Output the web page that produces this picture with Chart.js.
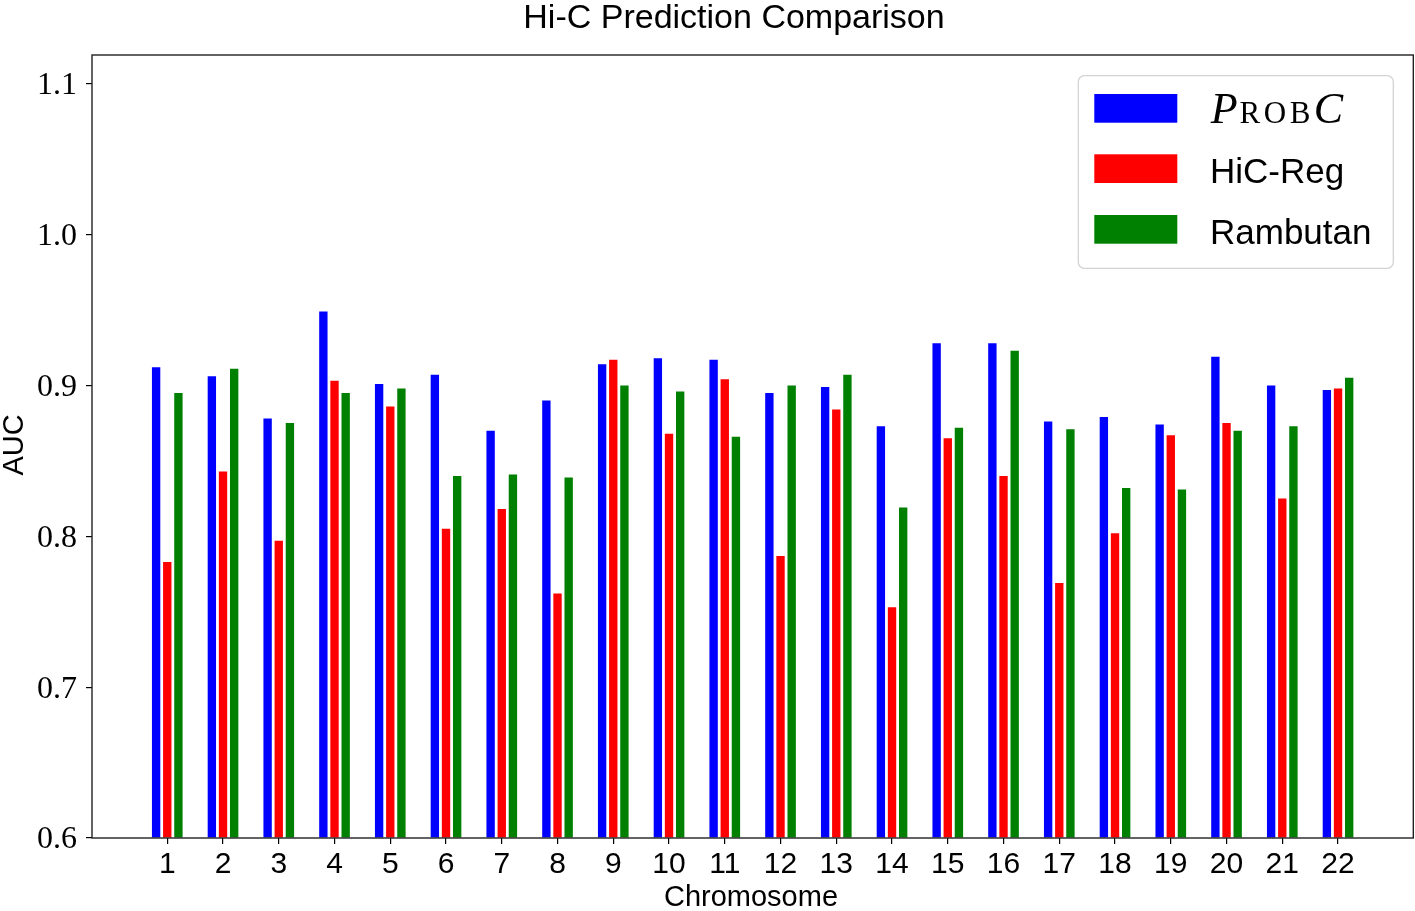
<!DOCTYPE html>
<html>
<head>
<meta charset="utf-8">
<script src="https://cdn.jsdelivr.net/npm/chart.js@4.4.1/dist/chart.umd.min.js"></script>
<style>
html,body{margin:0;padding:0;background:#fff;}
#wrap{width:1415px;height:911px;position:relative;}
</style>
</head>
<body>
<div id="wrap"><canvas id="c" width="1415" height="911"></canvas></div>
<script>
const chromosomes = [1,2,3,4,5,6,7,8,9,10,11,12,13,14,15,16,17,18,19,20,21,22];
const probc    = [0.912,0.906,0.878,0.949,0.901,0.907,0.870,0.890,0.914,0.918,0.917,0.895,0.899,0.873,0.928,0.928,0.876,0.879,0.874,0.919,0.900,0.897];
const hicreg   = [0.783,0.843,0.797,0.903,0.886,0.805,0.818,0.762,0.917,0.868,0.904,0.787,0.884,0.753,0.865,0.840,0.769,0.802,0.867,0.875,0.825,0.898];
const rambutan = [0.895,0.911,0.875,0.895,0.898,0.840,0.841,0.839,0.900,0.896,0.866,0.900,0.907,0.819,0.872,0.923,0.871,0.832,0.831,0.870,0.873,0.905];
const yTicks = [0.6,0.7,0.8,0.9,1.0,1.1];
const seriesLabels = ['ProbC','HiC-Reg','Rambutan'];
const seriesColors = ['#0000ff','#ff0000','#008000'];
const titleText = 'Hi-C Prediction Comparison';
const xTitle = 'Chromosome';
const yTitle = 'AUC';

const yMin = 0.6, yMax = 1.119;
const xMin = -0.35, xMax = 23.35;

function toPoints(vals){ return chromosomes.map((c,i)=>({x:c,y:vals[i]})); }

const datasets = [probc,hicreg,rambutan].map((v,i)=>({
  label: seriesLabels[i],
  data: toPoints(v),
  backgroundColor: seriesColors[i],
  borderWidth: 0,
  base: yMin,
  categoryPercentage: 0.6,
  barPercentage: 0.75
}));

const SANS = '"Liberation Sans", Arial, sans-serif';
const SERIF = '"Liberation Serif", "Times New Roman", serif';

const decor = {
  id: 'decor',
  afterDraw(chart){
    const ctx = chart.ctx;
    const a = chart.chartArea;
    ctx.save();
    // frame
    ctx.strokeStyle = '#222';
    ctx.lineWidth = 1.4;
    ctx.strokeRect(a.left, a.top, a.right - a.left, a.bottom - a.top);
    // title
    ctx.fillStyle = '#000';
    ctx.font = '34px ' + SANS;
    ctx.textAlign = 'center';
    ctx.textBaseline = 'alphabetic';
    ctx.fillText(titleText, 734, 28);
    // x title
    ctx.font = '29px ' + SANS;
    ctx.fillText(xTitle, 751, 906);
    // y title
    ctx.save();
    ctx.translate(23, 445);
    ctx.rotate(-Math.PI/2);
    ctx.fillText(yTitle, 0, 0);
    ctx.restore();
    // legend
    const bx = 1078.3, by = 75.7, bw = 315, bh = 192.6, r = 6;
    ctx.beginPath();
    ctx.moveTo(bx + r, by);
    ctx.arcTo(bx + bw, by, bx + bw, by + bh, r);
    ctx.arcTo(bx + bw, by + bh, bx, by + bh, r);
    ctx.arcTo(bx, by + bh, bx, by, r);
    ctx.arcTo(bx, by, bx + bw, by, r);
    ctx.closePath();
    ctx.fillStyle = 'rgba(255,255,255,0.8)';
    ctx.fill();
    ctx.strokeStyle = '#d3d3d3';
    ctx.lineWidth = 1.3;
    ctx.stroke();
    const rowY = [94, 154.3, 215];
    chart.data.datasets.forEach((ds, i) => {
      ctx.fillStyle = ds.backgroundColor;
      ctx.fillRect(1094.3, rowY[i], 83, 28.7);
      ctx.fillStyle = '#000';
      ctx.textAlign = 'left';
      ctx.textBaseline = 'alphabetic';
      const base = rowY[i] + 28.7;
      if (ds.label === 'ProbC') {
        let x = 1210.7;
        ctx.font = 'italic 44px ' + SERIF;
        ctx.fillText('P', x, base);
        x += ctx.measureText('P').width + 2;
        ctx.font = '31px ' + SERIF;
        const s = 'ROB';
        for (const ch of s) { ctx.fillText(ch, x, base); x += ctx.measureText(ch).width + 3.5; }
        ctx.font = 'italic 44px ' + SERIF;
        ctx.fillText('C', x, base);
      } else {
        ctx.font = '35px ' + SANS;
        ctx.fillText(ds.label, 1210, base);
      }
    });
    ctx.restore();
  }
};

new Chart(document.getElementById('c'), {
  type: 'bar',
  data: { datasets },
  options: {
    responsive: false,
    animation: false,
    layout: { padding: { top: 55, right: 1.7, left: 0, bottom: 0 } },
    plugins: { legend: { display: false }, title: { display: false }, tooltip: { enabled: false } },
    scales: {
      x: {
        type: 'linear',
        min: xMin, max: xMax,
        offset: false,
        afterBuildTicks(axis){ axis.ticks = chromosomes.map(v => ({ value: v })); },
        afterFit(axis){ axis.height = 73; },
        grid: { display: true, offset: false, drawOnChartArea: false, drawTicks: true, tickLength: 6, color: '#000', lineWidth: 1.2 },
        border: { display: false },
        ticks: { color: '#000', font: { family: SANS, size: 30 }, padding: 3, maxRotation: 0, autoSkip: false,
                 callback: v => String(v) }
      },
      y: {
        type: 'linear',
        min: yMin, max: yMax,
        afterBuildTicks(axis){ axis.ticks = yTicks.map(v => ({ value: v })); },
        afterFit(axis){ axis.width = 92; },
        grid: { display: true, drawOnChartArea: false, drawTicks: true, tickLength: 6, color: '#000', lineWidth: 1.2 },
        border: { display: false },
        ticks: { color: '#000', font: { family: SERIF, size: 32 }, padding: 9, labelOffset: 2,
                 callback: v => Number(v).toFixed(1) }
      }
    }
  },
  plugins: [decor]
});
</script>
</body>
</html>
